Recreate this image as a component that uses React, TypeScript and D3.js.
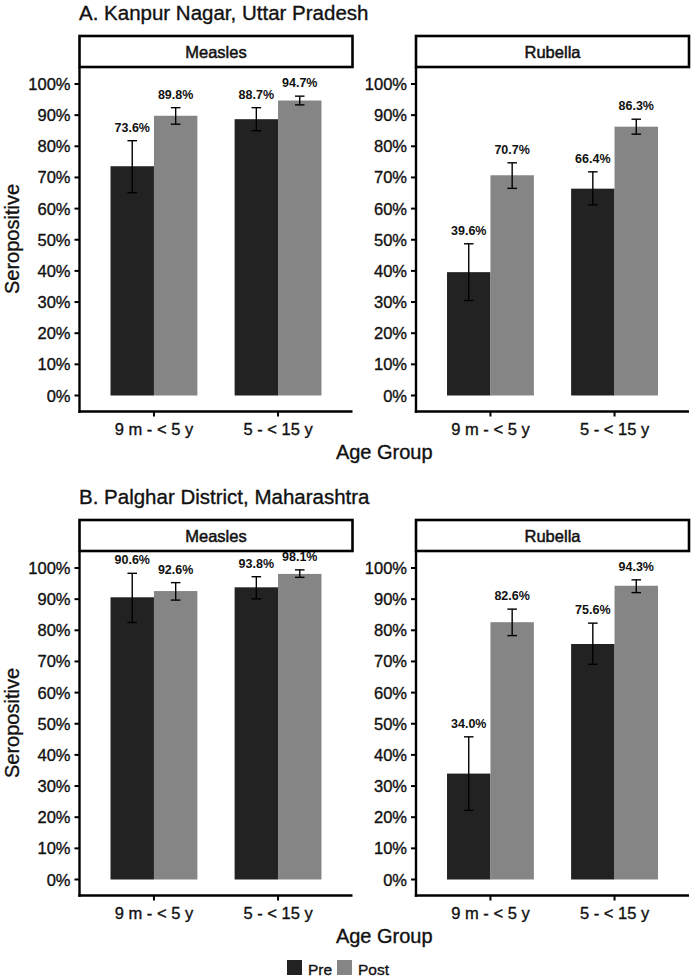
import React from "react";
import * as d3 from "d3";

// data
const regions = ["A. Kanpur Nagar, Uttar Pradesh", "B. Palghar District, Maharashtra"];
const diseases = ["Measles", "Rubella"];
const ageGroups = ["9 m - < 5 y", "5 - < 15 y"];
const phases = ["Pre", "Post"];

// values: [region][disease][ageGroup][phase]
const seroValues = [
  [
    [[0.736, 0.898], [0.887, 0.947]],
    [[0.396, 0.707], [0.664, 0.863]],
  ],
  [
    [[0.906, 0.926], [0.938, 0.981]],
    [[0.34, 0.826], [0.756, 0.943]],
  ],
];
const lowerCI = [
  [
    [[0.651, 0.871], [0.85, 0.933]],
    [[0.305, 0.665], [0.612, 0.839]],
  ],
  [
    [[0.825, 0.897], [0.901, 0.97]],
    [[0.222, 0.783], [0.691, 0.921]],
  ],
];
const upperCI = [
  [
    [[0.818, 0.924], [0.924, 0.961]],
    [[0.487, 0.747], [0.718, 0.887]],
  ],
  [
    [[0.983, 0.953], [0.972, 0.994]],
    [[0.458, 0.868], [0.823, 0.962]],
  ],
];
const yTicks = [0, 0.1, 0.2, 0.3, 0.4, 0.5, 0.6, 0.7, 0.8, 0.9, 1];

const W = 691;
const H = 979;
const FONT = "'Liberation Sans', Arial, Helvetica, sans-serif";
const INK = "#111";
const colors = d3.scaleOrdinal<string, string>().domain(phases).range(["#222222", "#858585"]);

const panelX = [
  [79.5, 352.5],
  [416, 689],
];
const ROW_OFFSET = 484;

// a thin outline makes the text as heavy as the reference's
const heavy = { stroke: INK, strokeWidth: 0.35, fill: INK };

const Panel = ({ r, d }: { r: number; d: number }) => {
  const off = r * ROW_OFFSET;
  const stripTop = 36 + off;
  const top = 67 + off;
  const bottom = 411.5 + off;
  const [left, right] = panelX[d];

  const y = d3.scaleLinear().domain([0, 1]).range([bottom - 16, top + 17]);
  const x = d3.scalePoint<string>().domain(ageGroups).range([left, right]).padding(0.6);
  const step = x.step();
  const xs = d3.scaleBand<string>().domain(phases).range([-0.35 * step, 0.35 * step]);
  const bw = xs.bandwidth();
  const pct = d3.format(".0%");

  return (
    <g>
      {/* bars */}
      {ageGroups.map((ag, gi) =>
        phases.map((ph, pi) => {
          const v = seroValues[r][d][gi][pi];
          const bx = (x(ag) ?? 0) + (xs(ph) ?? 0);
          return (
            <rect
              key={`b${gi}${pi}`}
              x={bx}
              y={y(v)}
              width={bw}
              height={y(0) - y(v)}
              fill={colors(ph)}
            />
          );
        })
      )}
      {/* error bars + labels */}
      {ageGroups.map((ag, gi) =>
        phases.map((ph, pi) => {
          const cx = (x(ag) ?? 0) + (xs(ph) ?? 0) + bw / 2;
          const lo = y(lowerCI[r][d][gi][pi]);
          const hi = y(upperCI[r][d][gi][pi]);
          const cap = bw * 0.11;
          return (
            <g key={`e${gi}${pi}`}>
              <g stroke="#000" strokeWidth={1.4}>
                <line x1={cx} x2={cx} y1={hi} y2={lo} />
                <line x1={cx - cap} x2={cx + cap} y1={hi} y2={hi} />
                <line x1={cx - cap} x2={cx + cap} y1={lo} y2={lo} />
              </g>
              <text x={cx} y={hi - 9} fontSize={12.5} fontWeight="bold" textAnchor="middle" fill={INK}>
                {d3.format(".1f")(seroValues[r][d][gi][pi] * 100)}%
              </text>
            </g>
          );
        })
      )}
      {/* y axis */}
      <line x1={left} x2={left} y1={top} y2={bottom + 1.2} stroke="#000" strokeWidth={2.4} />
      {yTicks.map((t) => (
        <g key={t}>
          <line x1={left - 5} x2={left} y1={y(t)} y2={y(t)} stroke="#000" strokeWidth={2} />
          <text x={left - 9} y={y(t) + 6} textAnchor="end" fontSize={16.5} {...heavy}>
            {pct(t)}
          </text>
        </g>
      ))}
      {/* x axis */}
      <line x1={left - 1.2} x2={right} y1={bottom} y2={bottom} stroke="#000" strokeWidth={2.4} />
      {ageGroups.map((ag) => (
        <g key={ag}>
          <line x1={x(ag)} x2={x(ag)} y1={bottom} y2={bottom + 5} stroke="#000" strokeWidth={2} />
          <text x={x(ag)} y={bottom + 23} textAnchor="middle" fontSize={16.5} {...heavy}>
            {ag}
          </text>
        </g>
      ))}
      {/* strip */}
      <rect
        x={left}
        y={stripTop}
        width={right - left}
        height={top - stripTop}
        fill="#fff"
        stroke="#000"
        strokeWidth={2.6}
      />
      <text
        x={(left + right) / 2}
        y={(stripTop + top) / 2 + 6}
        textAnchor="middle"
        fontSize={16.5}
        {...heavy}
        strokeWidth={0.5}
      >
        {diseases[d]}
      </text>
    </g>
  );
};

export default function App() {
  return (
    <svg
      width={W}
      height={H}
      style={{ display: "block", position: "absolute", top: 0, left: 0, fontFamily: FONT }}
    >
      <rect width={W} height={H} fill="#fff" />
      {regions.map((reg, r) => {
        const off = r * ROW_OFFSET;
        return (
          <g key={reg}>
            <text x={79} y={20 + off} fontSize={20.5} {...heavy}>
              {reg}
            </text>
            <text
              transform={`translate(19, ${239 + off}) rotate(-90)`}
              textAnchor="middle"
              fontSize={20}
              {...heavy}
            >
              Seropositive
            </text>
            <text x={(79.5 + 689) / 2} y={459 + off} textAnchor="middle" fontSize={20} {...heavy}>
              Age Group
            </text>
            {diseases.map((dz, d) => (
              <Panel key={dz} r={r} d={d} />
            ))}
          </g>
        );
      })}
      {/* legend */}
      {phases.map((ph, i) => {
        const lx = 287 + i * 50;
        return (
          <g key={ph}>
            <rect x={lx} y={960} width={15} height={15} fill={colors(ph)} />
            <text x={lx + 21} y={974.5} fontSize={15.5} {...heavy}>
              {ph}
            </text>
          </g>
        );
      })}
    </svg>
  );
}
